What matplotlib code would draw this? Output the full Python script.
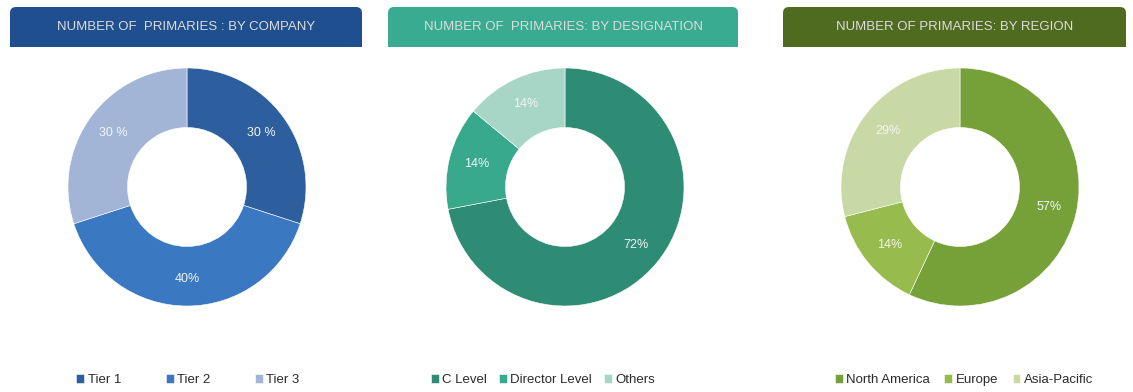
import numpy as np
import matplotlib.pyplot as plt
from matplotlib.patches import FancyBboxPatch, Rectangle

plt.rcParams['font.family'] = ['Liberation Sans', 'DejaVu Sans']

# donut data
company_labels = ['Tier 1', 'Tier 2', 'Tier 3']
company_values = [30, 40, 30]
company_texts = ['30 %', '40%', '30 %']

designation_labels = ['C Level', 'Director Level', 'Others']
designation_values = [72, 14, 14]
designation_texts = ['72%', '14%', '14%']

region_labels = ['North America', 'Europe', 'Asia-Pacific']
region_values = [57, 14, 29]
region_texts = ['57%', '14%', '29%']

titles = ['NUMBER OF  PRIMARIES : BY COMPANY',
          'NUMBER OF  PRIMARIES: BY DESIGNATION',
          'NUMBER OF PRIMARIES: BY REGION']

W, H = 1133, 392
fig = plt.figure(figsize=(W / 100, H / 100), dpi=100)
fig.patch.set_facecolor('white')

# background axes in pixel coordinates for the header boxes
bg = fig.add_axes([0, 0, 1, 1])
bg.set_xlim(0, W)
bg.set_ylim(H, 0)
bg.axis('off')

panels = [
    dict(box=(10, 362), head='#1f4f8f', cx=187, legend_x=188, colsp=3.4,
         labels=company_labels, values=company_values, texts=company_texts,
         colors=['#2d5f9e', '#3b78c2', '#a2b5d6']),
    dict(box=(388, 738), head='#38ab90', cx=565, legend_x=543, colsp=0.9,
         labels=designation_labels, values=designation_values, texts=designation_texts,
         colors=['#2f8c74', '#39a98e', '#a8d6c6']),
    dict(box=(783, 1126), head='#4f6b1f', cx=960, legend_x=964, colsp=1.1,
         labels=region_labels, values=region_values, texts=region_texts,
         colors=['#76a038', '#97bb4c', '#c9d9a6']),
]

cy = 187
R = 119

for title, p in zip(titles, panels):
    x0, x1 = p['box']
    # header box with rounded top corners
    bg.add_patch(FancyBboxPatch((x0 + 6, 7 + 6), x1 - x0 - 12, 40 - 12,
                                boxstyle='round,pad=6', fc=p['head'], ec='none'))
    bg.add_patch(Rectangle((x0, 27), x1 - x0, 20, fc=p['head'], ec='none'))
    bg.text((x0 + x1) / 2, 27, title, color='#dcdcdc', fontsize=9.5,
            ha='center', va='center')

    ax = fig.add_axes([(p['cx'] - R) / W, 1 - (cy + R) / H, 2 * R / W, 2 * R / H])
    wedges, _ = ax.pie(p['values'], colors=p['colors'], startangle=90,
                       counterclock=False, radius=1,
                       wedgeprops=dict(width=0.5, edgecolor='white', linewidth=0.4))
    # percentage labels from the same values
    start = 90
    for v, t in zip(p['values'], p['texts']):
        mid = np.deg2rad(start - v / 100 * 360 / 2)
        ax.text(0.77 * np.cos(mid), 0.77 * np.sin(mid), t, color='#f4f4f4',
                fontsize=9, ha='center', va='center')
        start -= v / 100 * 360
    ax.set_xlim(-1, 1)
    ax.set_ylim(-1, 1)
    ax.set_aspect('equal')

    ax.legend(wedges, p['labels'], ncol=3, loc='center',
              bbox_to_anchor=(p['legend_x'] / W, 1 - 380 / H),
              bbox_transform=fig.transFigure, frameon=False, fontsize=9.5,
              handlelength=0.6, handleheight=0.6, handletextpad=0.25,
              columnspacing=p['colsp'], labelcolor='#2b2b2b')

plt.savefig('out.png', dpi=100)
